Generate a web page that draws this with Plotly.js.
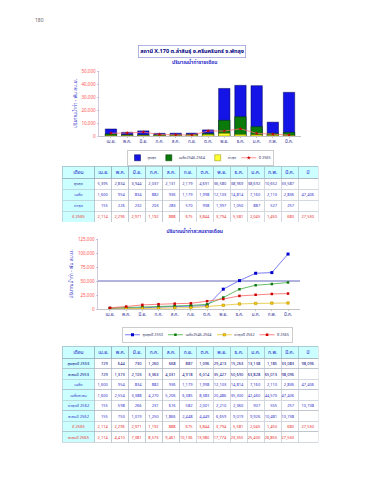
<!DOCTYPE html>
<html><head><meta charset="utf-8">
<script src="https://cdn.plot.ly/plotly-3.0.1.min.js"></script>
<style>
html,body{margin:0;padding:0;background:#fff;overflow:hidden}
#wrap{width:370px;height:480px;overflow:hidden;position:relative}
#chart{width:740px;height:960px;transform:scale(0.5);transform-origin:0 0}
</style>
</head><body><div id="wrap"><div id="chart"></div></div>
<script>
// ---- data ----
const months = ['เม.ย.','พ.ค.','มิ.ย.','ก.ค.','ส.ค.','ก.ย.','ต.ค.','พ.ย.','ธ.ค.','ม.ค.','ก.พ.','มี.ค.'];
// monthly statistics (พัน ลบ.ม.)
const maxMonthly = [5395, 2834, 3944, 2037, 2131, 2179, 4691, 36580, 38969, 38692, 10652, 33587];
const avgMonthly = [1600, 954, 834, 882, 936, 1179, 1998, 12103, 14814, 7160, 2110, 2836];
const minMonthly = [155, 226, 232, 203, 283, 570, 998, 1997, 1050, 887, 527, 257];
const y2565Monthly = [2114, 2296, 2971, 1192, 888, 675, 3844, 3794, 5581, 2045, 1450, 680];
// max year / min year
const maxYearMonthly = [729, 644, 730, 1260, 668, 887, 1096, 29413, 15263, 13138, 1185, 33083];
const maxYearCum = [729, 1373, 2103, 3363, 4031, 4918, 6014, 35427, 50690, 63828, 65013, 98096];
const avgCum = [1600, 2554, 3388, 4270, 5206, 6385, 8383, 20486, 35300, 42460, 44570, 47406];
const minYearMonthly = [155, 598, 266, 231, 616, 582, 2001, 2210, 2360, 907, 555, 257];
const minYearCum = [155, 753, 1019, 1250, 1866, 2448, 4449, 6659, 9019, 9926, 10481, 10738];
const y2565Cum = [2114, 4410, 7381, 8573, 9461, 10136, 13980, 17774, 23355, 25400, 26850, 27530];
// yearly totals
const avgTotal = 47406;
const y2565Total = 27530;
const maxYearTotal = 98096;
const minYearTotal = 10738;

const pageNo = '180';
const stationTitle = 'สถานี X.170 ต.ลำสินธุ์ อ.ศรีนครินทร์ จ.พัทลุง';
const chart1Title = 'ปริมาณน้ำท่ารายเดือน';
const chart2Title = 'ปริมาณน้ำท่าสะสมรายเดือน';
const yTitle = 'ปริมาณน้ำท่า - พัน ลบ.ม.';
const legend1Names = ['สูงสุด', 'เฉลี่ย2546-2564', 'ต่ำสุด', 'ปี 2565'];
const legend2Names = ['สูงสุดปี 2553', 'เฉลี่ย2546-2564', 'ต่ำสุดปี 2562', 'ปี 2565'];
const table1Rows = ['สูงสุด', 'เฉลี่ย', 'ต่ำสุด', 'ปี 2565'];
const table2Rows = ['สูงสุดปี 2553', 'สะสมปี 2553', 'เฉลี่ย', 'เฉลี่ยสะสม', 'ต่ำสุดปี 2562', 'สะสมปี 2562', 'ปี 2565', 'สะสมปี 2565'];
const monthHeader = 'เดือน';
const yearHeader = 'ปี';

// ---- helpers ----
const FONT = 'Noto Sans Thai, Tahoma, Loma, Garuda, DejaVu Sans, sans-serif';
const W = 370, H = 480;
const fx = p => p / W;
const fy = p => 1 - p / H;
const fmt = v => (v === '' || v === null) ? '' : Number(v).toLocaleString('en-US');

function buildTable(rowLabels, rowsData, totals, rowColors, domainX, domainY, cellH) {
  const values = [rowLabels];
  const colors = [rowColors];
  const fills = [rowLabels.map(() => '#ccffff')];
  for (let m = 0; m < months.length; m++) {
    values.push(rowsData.map(r => fmt(r[m])));
    colors.push(rowColors);
    fills.push(rowLabels.map(() => '#ffffff'));
  }
  values.push(totals.map(fmt));
  colors.push(rowColors);
  fills.push(rowLabels.map(() => '#ffffff'));
  const aligns = ['center'].concat(months.map(() => 'right')).concat(['right']);
  return {
    type: 'table',
    domain: {x: domainX, y: domainY},
    columnwidth: [33].concat(months.map(() => 17)).concat([20]),
    header: {
      values: [monthHeader].concat(months).concat([yearHeader]),
      fill: {color: '#ccffff'},
      line: {color: '#8899aa', width: 1},
      font: {family: FONT, size: 10, color: '#2222cc'},
      align: 'center',
      height: 24
    },
    cells: {
      values: values,
      fill: {color: fills},
      line: {color: '#aab4c0', width: 1},
      font: {family: FONT, size: 8, color: colors},
      align: aligns,
      height: cellH
    }
  };
}

const blue = '#1414e6', green = '#0a7a0a', yellow = '#ffff33';

const traces = [
  {type: 'bar', x: months, y: maxMonthly, name: legend1Names[0], marker: {color: blue, line: {color: '#000055', width: 1}}, xaxis: 'x', yaxis: 'y', legend: 'legend'},
  {type: 'bar', x: months, y: avgMonthly, name: legend1Names[1], marker: {color: green, line: {color: '#003300', width: 1}}, xaxis: 'x', yaxis: 'y', legend: 'legend'},
  {type: 'bar', x: months, y: minMonthly, name: legend1Names[2], marker: {color: yellow, line: {color: '#888800', width: 1}}, xaxis: 'x', yaxis: 'y', legend: 'legend'},
  {type: 'scatter', mode: 'lines+markers', x: months, y: y2565Monthly, name: legend1Names[3], line: {color: '#ff7070', width: 1.5}, marker: {symbol: 'star', color: '#cc0000', size: 6}, xaxis: 'x', yaxis: 'y', legend: 'legend'},

  {type: 'scatter', mode: 'lines+markers', x: months, y: maxYearCum, name: legend2Names[0], line: {color: '#5050ee', width: 1.5}, marker: {symbol: 'square', color: '#0000cc', size: 6}, xaxis: 'x2', yaxis: 'y2', legend: 'legend2'},
  {type: 'scatter', mode: 'lines+markers', x: months, y: avgCum, name: legend2Names[1], line: {color: '#33aa33', width: 1.5}, marker: {symbol: 'square', color: '#117711', size: 5}, xaxis: 'x2', yaxis: 'y2', legend: 'legend2'},
  {type: 'scatter', mode: 'lines+markers', x: months, y: minYearCum, name: legend2Names[2], line: {color: '#e0c020', width: 1.5}, marker: {symbol: 'square', color: '#ffcc00', size: 5, line: {color: '#aa8800', width: 1}}, xaxis: 'x2', yaxis: 'y2', legend: 'legend2'},
  {type: 'scatter', mode: 'lines+markers', x: months, y: y2565Cum, name: legend2Names[3], line: {color: '#ff5555', width: 1.5}, marker: {symbol: 'square', color: '#cc0000', size: 5}, xaxis: 'x2', yaxis: 'y2', legend: 'legend2'},

  buildTable(table1Rows, [maxMonthly, avgMonthly, minMonthly, y2565Monthly],
    ['', avgTotal, '', y2565Total],
    ['#3333aa', '#3333cc', '#3333cc', '#e83030'],
    [fx(62), fx(318)], [fy(222), fy(166)], 22),
  buildTable(table2Rows, [maxYearMonthly, maxYearCum, avgMonthly, avgCum, minYearMonthly, minYearCum, y2565Monthly, y2565Cum],
    [maxYearTotal, '', avgTotal, '', minYearTotal, '', y2565Total, ''],
    ['#000080', '#000080', '#3333cc', '#3333cc', '#3333cc', '#3333cc', '#e83030', '#e83030'],
    [fx(62), fx(318)], [fy(443), fy(346)], 21)
];

const axisX = (dom, anchor) => ({
  domain: dom, anchor: anchor, type: 'category',
  tickfont: {family: FONT, size: 9, color: '#333399'},
  showline: true, linecolor: '#888888', linewidth: 1,
  ticks: 'outside', ticklen: 3, tickcolor: '#888888',
  showgrid: false, zeroline: false, fixedrange: true
});
const axisY = (dom, anchor, range, dtick) => ({
  domain: dom, anchor: anchor, range: range, dtick: dtick, tickformat: ',d',
  tickfont: {family: FONT, size: 9, color: '#ff5050'},
  showline: true, linecolor: '#9999cc', linewidth: 1,
  ticks: 'outside', ticklen: 4, tickcolor: '#9999cc',
  showgrid: false, zeroline: false, fixedrange: true,
  title: {text: yTitle, font: {family: FONT, size: 10, color: '#3333cc'}, standoff: 6}
});

const layout = {
  width: 740, height: 960,
  margin: {l: 0, r: 0, t: 0, b: 0},
  paper_bgcolor: '#ffffff', plot_bgcolor: '#ffffff',
  font: {family: FONT, size: 10, color: '#333399'},
  barmode: 'overlay', bargap: 0.3,
  showlegend: true,
  xaxis: axisX([fx(99), fx(301)], 'y'),
  yaxis: axisY([fy(136), fy(71)], 'x', [0, 50000], 10000),
  xaxis2: axisX([fx(98), fx(300)], 'y2'),
  yaxis2: axisY([fy(309), fy(239)], 'x2', [0, 125000], 25000),
  legend: {x: fx(127), y: fy(150), xanchor: 'left', yanchor: 'top', orientation: 'h',
    bordercolor: '#999999', borderwidth: 1, bgcolor: '#ffffff', itemwidth: 30,
    font: {family: FONT, size: 7.5, color: '#333366'}, traceorder: 'normal'},
  legend2: {x: fx(122), y: fy(327), xanchor: 'left', yanchor: 'top', orientation: 'h',
    bordercolor: '#999999', borderwidth: 1, bgcolor: '#ffffff', itemwidth: 30,
    font: {family: FONT, size: 7.5, color: '#333366'}, traceorder: 'normal'},
  shapes: [
    {type: 'line', xref: 'x2 domain', yref: 'y2', x0: 0, x1: 1, y0: 50000, y1: 50000,
     line: {color: '#3333aa', width: 1.5}, layer: 'below'}
  ],
  annotations: [
    {text: pageNo, xref: 'paper', yref: 'paper', x: fx(34), y: fy(15), showarrow: false,
     font: {family: FONT, size: 10, color: '#666666'}},
    {text: '<b>' + stationTitle + '</b>', xref: 'paper', yref: 'paper', x: fx(192), y: fy(45),
     showarrow: false, bordercolor: '#9999dd', borderwidth: 1.5, borderpad: 3, bgcolor: '#ffffff',
     font: {family: FONT, size: 11, color: '#000080'}},
    {text: '<b>' + chart1Title + '</b>', xref: 'paper', yref: 'paper', x: fx(195), y: fy(57),
     showarrow: false, font: {family: FONT, size: 10, color: '#3333cc'}},
    {text: '<b>' + chart2Title + '</b>', xref: 'paper', yref: 'paper', x: fx(195), y: fy(231),
     showarrow: false, font: {family: FONT, size: 10, color: '#3333cc'}}
  ]
};

Plotly.newPlot('chart', traces, layout, {staticPlot: true, displayModeBar: false});
</script>
</body></html>
